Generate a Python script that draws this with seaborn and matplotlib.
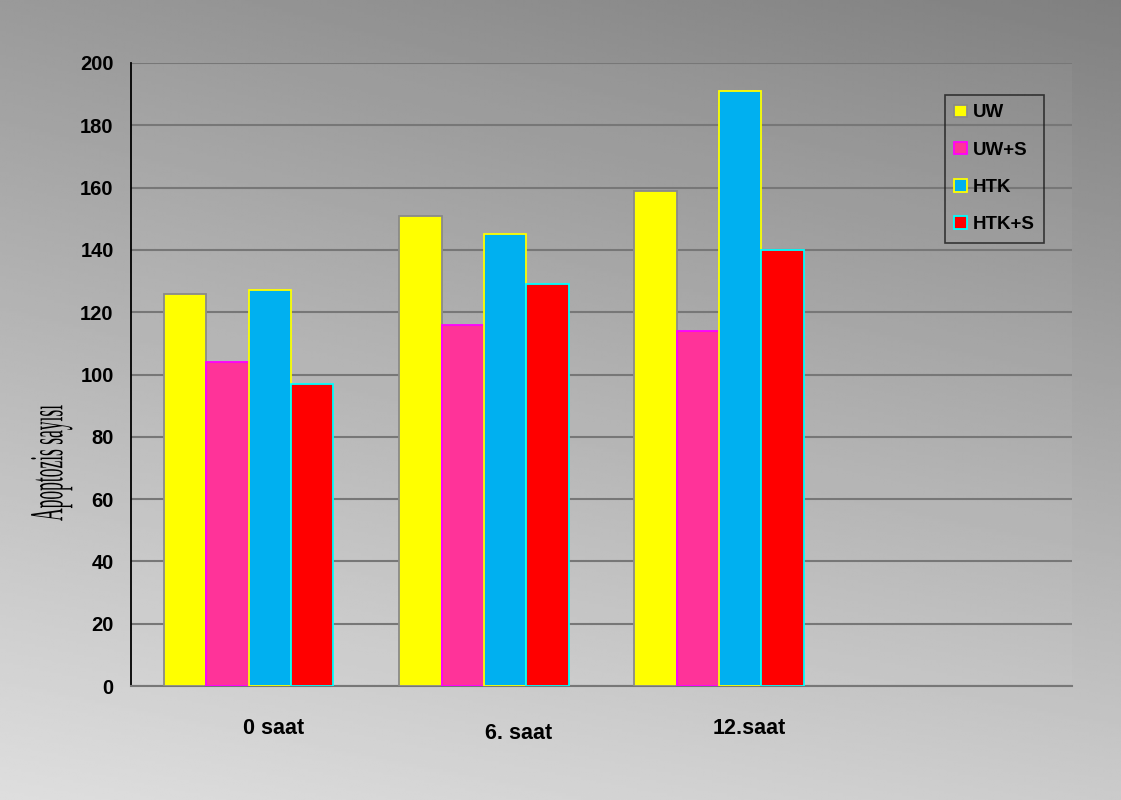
import numpy as np
import pandas as pd
import matplotlib
matplotlib.use("Agg")
import matplotlib.pyplot as plt
from matplotlib.patches import Patch
from matplotlib.patheffects import AbstractPathEffect
from matplotlib.transforms import Affine2D
import seaborn as sns

# Apoptosis counts per time point and solution group
times = ["0 saat", "6. saat", "12.saat"]
groups = ["UW", "UW+S", "HTK", "HTK+S"]
uw = [126, 151, 159]
uw_s = [104, 116, 114]
htk = [127, 145, 191]
htk_s = [97, 129, 140]

yticks = [0, 20, 40, 60, 80, 100, 120, 140, 160, 180, 200]

fill_colors = ["#FFFF00", "#FF3399", "#00B0F0", "#FF0000"]
edge_colors = ["#8a8a8a", "#FF00FF", "#FFFF00", "#00FFFF"]

df = pd.DataFrame({
    "saat": times * 4,
    "grup": [g for g in groups for _ in times],
    "deger": uw + uw_s + htk + htk_s,
})


class Condensed(AbstractPathEffect):
    """Squeeze glyph outlines along the baseline to get a narrow face."""

    def __init__(self, sx):
        super().__init__()
        self.sx = sx

    def draw_path(self, renderer, gc, tpath, affine, rgbFace=None):
        xs = tpath.vertices[:, 0]
        cx = 0.5 * (xs.min() + xs.max()) if len(xs) else 0.0
        squeeze = Affine2D().translate(-cx, 0).scale(self.sx, 1).translate(cx, 0)
        renderer.draw_path(gc, tpath, squeeze + affine, rgbFace)


sns.set_style("white")
plt.rcParams["font.family"] = ["Liberation Sans", "DejaVu Sans"]
plt.rcParams["text.color"] = "black"
plt.rcParams["axes.labelcolor"] = "black"
plt.rcParams["ytick.color"] = "black"
plt.rcParams["xtick.color"] = "black"

fig = plt.figure(figsize=(11.21, 8.0), dpi=100)

# Diagonal grey gradient behind everything
bg = fig.add_axes([0, 0, 1, 1], zorder=-10)
xx, yy = np.meshgrid(np.linspace(0, 1, 300), np.linspace(0, 1, 300))
tl, tr, bl, br = 154, 128, 222, 203
shade = (tl * (1 - xx) * (1 - yy) + tr * xx * (1 - yy)
         + bl * (1 - xx) * yy + br * xx * yy) / 255.0
bg.imshow(shade, cmap="gray", vmin=0, vmax=1, aspect="auto",
          extent=[0, 1, 0, 1], origin="upper", interpolation="bilinear")
bg.set_axis_off()

ax = fig.add_axes([0.1169, 0.1425, 0.9563 - 0.1169, 0.92125 - 0.1425])
ax.set_facecolor((1, 1, 1, 0.04))

sns.barplot(data=df, x="saat", y="deger", hue="grup", order=times,
            hue_order=groups, palette=fill_colors, saturation=1,
            width=0.72, gap=0, ax=ax, legend=False, zorder=3)

for cont, ec in zip(ax.containers, edge_colors):
    for bar in cont:
        bar.set_edgecolor(ec)
        bar.set_linewidth(1.3)

ax.set_xlim(-0.5, 3.5)
ax.set_ylim(0, 200)
ax.set_yticks(yticks)
ax.set_yticklabels([str(v) for v in yticks], fontsize=14.5, fontweight="bold")
ax.tick_params(axis="y", direction="out", length=5.5, width=1.3, color="black", pad=7)
ax.set_xticks([])
ax.set_xlabel("")
ax.set_ylabel("")

ax.yaxis.grid(True, color="#777777", linewidth=1.5, zorder=0)
ax.set_axisbelow(True)
for side in ["top", "right"]:
    ax.spines[side].set_visible(False)
ax.spines["left"].set_color("black")
ax.spines["left"].set_linewidth(1.3)
ax.spines["bottom"].set_color("#777777")
ax.spines["bottom"].set_linewidth(1.5)

# Category captions sit a little to the right of each group
label_pos = [(0.104, -0.069), (1.146, -0.076), (2.127, -0.069)]
for name, (xp, yp) in zip(times, label_pos):
    ax.text(xp, yp, name, transform=ax.get_xaxis_transform(), ha="center",
            va="center", fontsize=15.5, fontweight="bold")

ylab = fig.text(0.0455, 0.4219, "Apoptozis sayısı", rotation=90, ha="center",
                va="center", fontsize=34,
                family=["Liberation Serif", "DejaVu Serif"])
ylab.set_path_effects([Condensed(0.37)])

handles = [Patch(facecolor=fc, edgecolor=ec, linewidth=1.3)
           for fc, ec in zip(fill_colors, edge_colors)]
leg = ax.legend(handles, groups, loc="upper left",
                bbox_to_anchor=(0.843, 0.88125), bbox_transform=fig.transFigure,
                frameon=True, fancybox=False, facecolor="none",
                prop={"weight": "bold", "size": 13.5},
                handlelength=0.65, handleheight=0.65, handletextpad=0.35,
                labelspacing=1.08, borderpad=0.5, borderaxespad=0)
leg.get_frame().set_edgecolor("#1a1a1a")
leg.get_frame().set_linewidth(1.2)

fig.savefig("out.png", dpi=100)
